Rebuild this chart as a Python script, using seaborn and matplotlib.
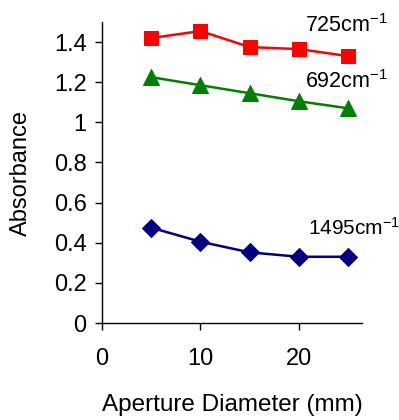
import numpy as np
import pandas as pd
import seaborn as sns
import matplotlib.pyplot as plt

# aperture diameters (mm) and absorbance values
diameter = [5, 10, 15, 20, 25]
abs_725 = [1.42, 1.455, 1.375, 1.365, 1.33]
abs_692 = [1.225, 1.185, 1.145, 1.105, 1.07]
abs_1495 = [0.475, 0.405, 0.352, 0.33, 0.33]

df = pd.DataFrame({
    'Diameter': diameter * 3,
    'Absorbance': abs_725 + abs_692 + abs_1495,
    'Band': ['725'] * 5 + ['692'] * 5 + ['1495'] * 5,
})

sns.set_style('white')
plt.rcParams['font.family'] = ['Liberation Sans', 'DejaVu Sans']
plt.rcParams['mathtext.fontset'] = 'custom'
plt.rcParams['mathtext.rm'] = 'Liberation Sans'
plt.rcParams['mathtext.it'] = 'Liberation Sans'
plt.rcParams['text.color'] = 'black'
plt.rcParams['axes.labelcolor'] = 'black'

fig = plt.figure(figsize=(3.99, 4.2), dpi=100)
ax = fig.add_axes([102 / 399, 1 - 323 / 420, 260 / 399, 301 / 420])

styles = {'725': ('#FF0000', 's', 10), '692': ('#008000', '^', 11), '1495': ('#000080', 'D', 9)}
for band, (col, mk, ms) in styles.items():
    sns.lineplot(data=df[df['Band'] == band], x='Diameter', y='Absorbance', ax=ax,
                 color=col, marker=mk, markersize=ms, markeredgecolor=col,
                 linewidth=1.8, legend=False)

# band labels
ax.text(20.6, 1.45, '725cm$^{-1}$', fontsize=15.5, color='black')
ax.text(20.6, 1.17, '692cm$^{-1}$', fontsize=15.5, color='black')
ax.text(20.9, 0.44, '1495cm$^{-1}$', fontsize=15, color='black')

ax.set_xlim(0, 26.4)
ax.set_ylim(0, 1.5)
ax.set_xticks([0, 10, 20])
ax.set_yticks([0, 0.2, 0.4, 0.6, 0.8, 1.0, 1.2, 1.4])
ax.set_yticklabels(['0', '0.2', '0.4', '0.6', '0.8', '1', '1.2', '1.4'])
ax.tick_params(axis='both', labelsize=17, direction='out', length=5, width=1,
               left=True, bottom=True, colors='black', pad=6)
ax.tick_params(axis='x', pad=13)

sns.despine(ax=ax)
for s in ['left', 'bottom']:
    ax.spines[s].set_color('black')
    ax.spines[s].set_linewidth(1)

ax.set_xlabel('Aperture Diameter (mm)', fontsize=17.5, labelpad=17)
ax.set_ylabel('Absorbance', fontsize=17, labelpad=16)

fig.savefig('out.png', dpi=100, facecolor='white')
